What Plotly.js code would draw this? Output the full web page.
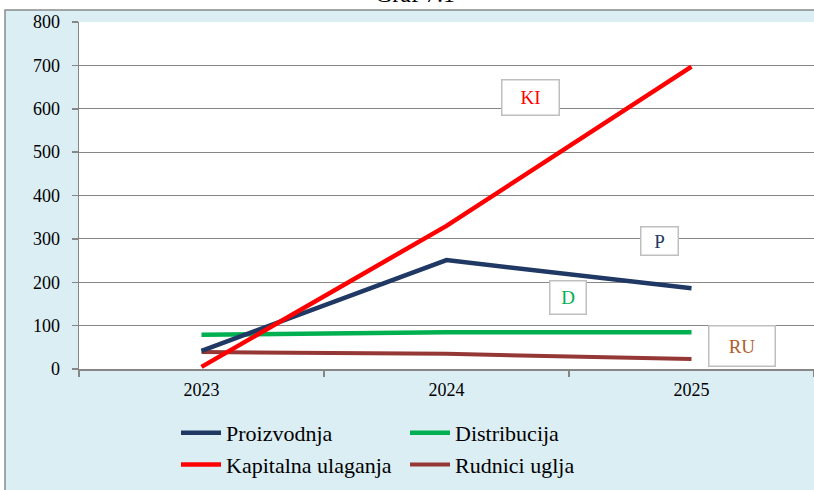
<!DOCTYPE html>
<html><head><meta charset="utf-8">
<script src="https://cdn.plot.ly/plotly-3.0.1.min.js"></script>
<style>html,body{margin:0;padding:0;background:#fff;}#chart{width:814px;height:490px;}</style>
</head><body><div id="chart"></div>
<script>
const years = ['2023', '2024', '2025'];
const proizvodnja = [42, 251, 186];
const distribucija = [79, 85, 85];
const kapitalna = [5, 330, 697];
const rudnici = [39, 35, 23];
const seriesNames = ['Proizvodnja', 'Distribucija', 'Kapitalna ulaganja', 'Rudnici uglja'];
const labelTexts = ['KI', 'P', 'D', 'RU'];
const labelX = [1.341, 1.871, 1.496, 2.206];
const labelY = [627, 295, 166, 53];
const yTicks = [0, 100, 200, 300, 400, 500, 600, 700, 800];

const font = 'Liberation Serif';
const cNavy = '#1f3864', cGreen = '#00b050', cRed = '#ff0000', cBrown = '#953735';

function tr(y, name, color, legend, w) {
  return {x: years, y: y, name: name, type: 'scatter', mode: 'lines',
    line: {color: color, width: w || 4.5}, legend: legend};
}
const data = [
  tr(distribucija, seriesNames[1], cGreen, 'legend2'),
  tr(rudnici, seriesNames[3], cBrown, 'legend2', 4),
  tr(proizvodnja, seriesNames[0], cNavy, 'legend'),
  tr(kapitalna, seriesNames[2], cRed, 'legend')
];

const L = 79, T = 22, B = 121, W = 735, H = 347;
function px2x(px) { return (px - L) / W; }
function py2y(py) { return (490 - B - py) / H; }

const labelColors = [cRed, cNavy, cGreen, '#b0602a'];
const annotations = labelTexts.map((t, i) => ({
  x: labelX[i], y: labelY[i], xref: 'x', yref: 'y', text: t, showarrow: false,
  font: {family: font, size: 19, color: labelColors[i]},
  bgcolor: '#ffffff', bordercolor: '#bfbfbf', borderwidth: 1.5,
  width: [54, 34, 33, 63][i], height: [32, 25, 30, 37][i]
}));
annotations.push({
  text: 'Graf 7.1', xref: 'paper', yref: 'paper', x: px2x(415), y: py2y(-6),
  xanchor: 'center', yanchor: 'middle', showarrow: false,
  font: {family: font, size: 24, color: '#000'}
});

const layout = {
  width: 814, height: 490,
  font: {family: font, color: '#000'},
  margin: {l: L, r: 0, t: T, b: B, autoexpand: false},
  paper_bgcolor: '#ffffff', plot_bgcolor: '#ffffff',
  showlegend: true,
  shapes: [
    {type: 'rect', xref: 'paper', yref: 'paper', layer: 'below',
     x0: px2x(5), x1: px2x(830), y0: py2y(500), y1: py2y(10),
     fillcolor: '#dbeef4', line: {color: '#8a8a8a', width: 1.5}},
    {type: 'rect', xref: 'paper', yref: 'paper', layer: 'below',
     x0: 0, x1: 1, y0: 0, y1: 1, fillcolor: '#ffffff', line: {width: 0}}
  ],
  xaxis: {
    type: 'category', range: [-0.5, 2.5], fixedrange: true,
    showline: true, linecolor: '#868686', linewidth: 1.5,
    ticks: 'outside', tickson: 'boundaries', ticklen: 6, tickcolor: '#868686', tickwidth: 1.5,
    showgrid: false, zeroline: false,
    tickfont: {family: font, size: 18, color: '#000'}, ticklabelstandoff: 4
  },
  yaxis: {
    range: [0, 800], tickvals: yTicks, fixedrange: true,
    showline: true, linecolor: '#868686', linewidth: 1.5,
    ticks: 'outside', ticklen: 6, tickcolor: '#868686', tickwidth: 1.5,
    showgrid: true, gridcolor: '#868686', gridwidth: 1, zeroline: false,
    tickfont: {family: font, size: 18, color: '#000'}, ticklabelstandoff: 8
  },
  legend: {x: px2x(176), y: py2y(412), xanchor: 'left', yanchor: 'top', orientation: 'v', itemwidth: 40,
    bgcolor: 'rgba(0,0,0,0)', font: {family: font, size: 22, color: '#000'}, tracegroupgap: 0},
  legend2: {x: px2x(405), y: py2y(412), xanchor: 'left', yanchor: 'top', orientation: 'v', itemwidth: 40,
    bgcolor: 'rgba(0,0,0,0)', font: {family: font, size: 22, color: '#000'}, tracegroupgap: 0},
  annotations: annotations
};
Plotly.newPlot('chart', data, layout, {staticPlot: true});
</script></body></html>
